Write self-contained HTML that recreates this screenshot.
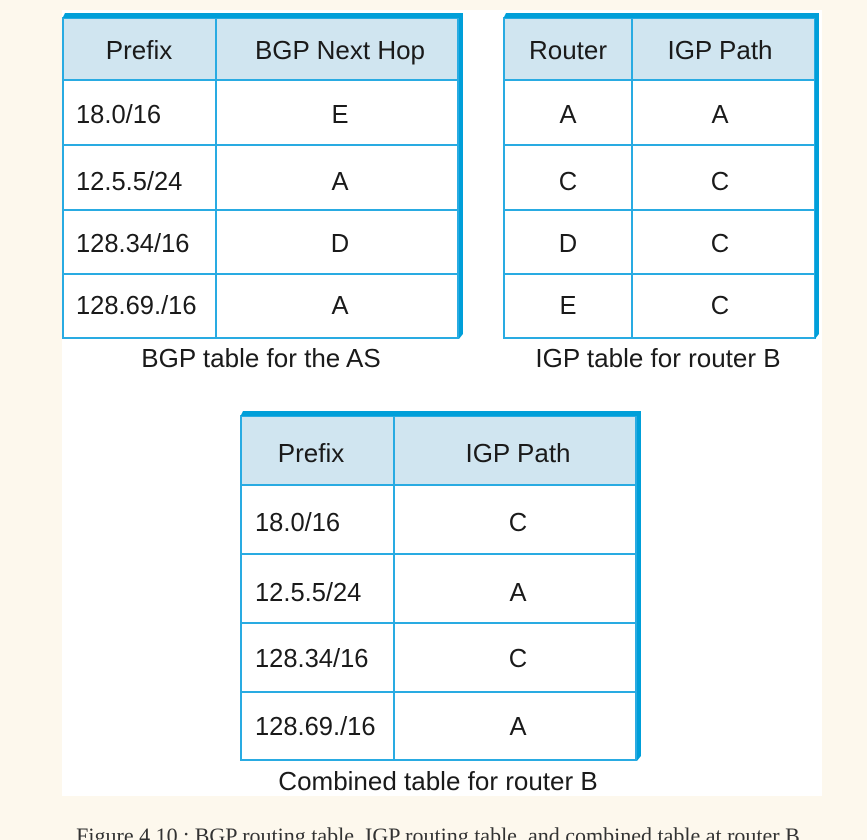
<!DOCTYPE html>
<html><head><style>
html,body{margin:0;padding:0;background:#fdf8ed;width:867px;height:840px;overflow:hidden}
svg text{font-family:"Liberation Sans",sans-serif;fill:#1a1a1a}
</style></head><body>
<svg width="867" height="840" xmlns="http://www.w3.org/2000/svg">
<rect x="62" y="10" width="760" height="786" fill="#fff"/>
<g stroke="#29abe2" stroke-width="2" fill="none">
 <rect x="63" y="18" width="395" height="62" fill="#d0e5f0" stroke="none"/>
 <rect x="63" y="18" width="395" height="320"/>
 <line x1="63" y1="80" x2="458" y2="80"/><line x1="63" y1="145" x2="458" y2="145"/>
 <line x1="63" y1="210" x2="458" y2="210"/><line x1="63" y1="274" x2="458" y2="274"/>
 <line x1="216" y1="18" x2="216" y2="338"/>
 <rect x="504" y="18" width="311" height="62" fill="#d0e5f0" stroke="none"/>
 <rect x="504" y="18" width="311" height="320"/>
 <line x1="504" y1="80" x2="815" y2="80"/><line x1="504" y1="145" x2="815" y2="145"/>
 <line x1="504" y1="210" x2="815" y2="210"/><line x1="504" y1="274" x2="815" y2="274"/>
 <line x1="632" y1="18" x2="632" y2="338"/>
 <rect x="241" y="416" width="395" height="69" fill="#d0e5f0" stroke="none"/>
 <rect x="241" y="416" width="395" height="344"/>
 <line x1="241" y1="485" x2="636" y2="485"/><line x1="241" y1="554" x2="636" y2="554"/>
 <line x1="241" y1="623" x2="636" y2="623"/><line x1="241" y1="692" x2="636" y2="692"/>
 <line x1="394" y1="416" x2="394" y2="760"/>
</g>
<g fill="#009fd9">
 <polygon points="63,17 65,13 463,13 463,334 459,339 459,18 63,18"/>
 <polygon points="504,17 506,13 819,13 819,334 815,339 815,18 504,18"/>
 <polygon points="241,415 243,411 641,411 641,756 637,761 637,416 241,416"/>
</g>
<g font-size="26" text-anchor="middle">
 <text x="139" y="59">Prefix</text><text x="340" y="59">BGP Next Hop</text>
 <text x="568" y="59">Router</text><text x="720" y="59">IGP Path</text>
 <text x="311" y="462">Prefix</text><text x="518" y="462">IGP Path</text>
</g>
<g font-size="25.5">
 <text x="76" y="123">18.0/16</text><text x="76" y="190">12.5.5/24</text>
 <text x="76" y="252">128.34/16</text><text x="76" y="314">128.69./16</text>
 <text x="255" y="531">18.0/16</text><text x="255" y="601">12.5.5/24</text>
 <text x="255" y="667">128.34/16</text><text x="255" y="735">128.69./16</text>
</g>
<g font-size="25.5" text-anchor="middle">
 <text x="340" y="123">E</text><text x="340" y="190">A</text><text x="340" y="252">D</text><text x="340" y="314">A</text>
 <text x="568" y="123">A</text><text x="568" y="190">C</text><text x="568" y="252">D</text><text x="568" y="314">E</text>
 <text x="720" y="123">A</text><text x="720" y="190">C</text><text x="720" y="252">C</text><text x="720" y="314">C</text>
 <text x="518" y="531">C</text><text x="518" y="601">A</text><text x="518" y="667">C</text><text x="518" y="735">A</text>
</g>
<g font-size="26" text-anchor="middle">
 <text x="261" y="367">BGP table for the AS</text>
 <text x="658" y="367">IGP table for router B</text>
 <text x="438" y="790">Combined table for router B</text>
</g>
<text x="438" y="843" font-size="22" text-anchor="middle" style="font-family:'Liberation Serif',serif;fill:#333">Figure 4.10 : BGP routing table, IGP routing table, and combined table at router B</text>
</svg>
</body></html>
